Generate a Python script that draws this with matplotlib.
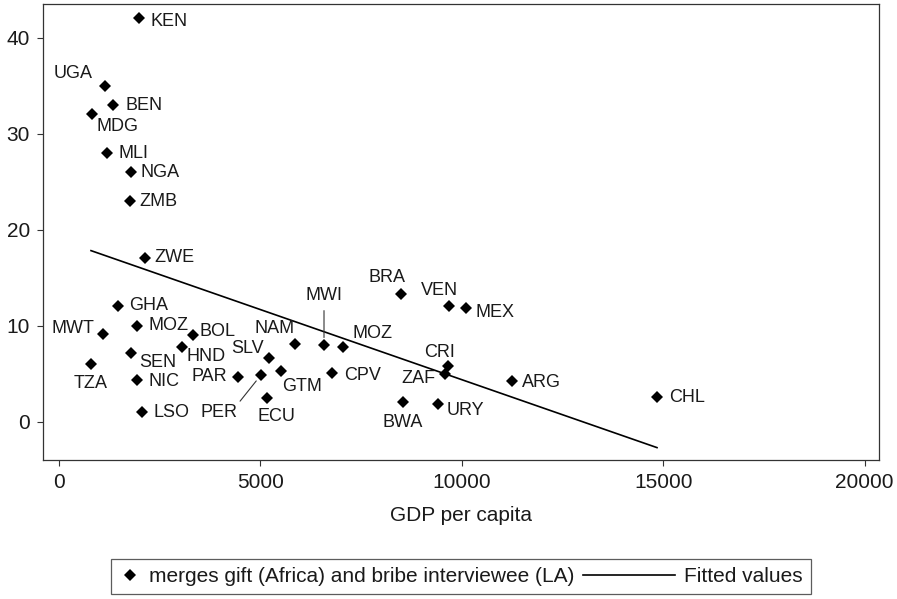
import matplotlib
matplotlib.use("Agg")
import matplotlib.pyplot as plt
from matplotlib.lines import Line2D
from matplotlib.legend_handler import HandlerLine2D

plt.rcParams['font.family'] = ['Liberation Sans', 'DejaVu Sans']

# country codes, GDP per capita and share reporting gifts/bribes
countries = ['KEN', 'UGA', 'BEN', 'MDG', 'MLI', 'NGA', 'ZMB', 'ZWE', 'GHA', 'MOZ',
             'MWT', 'BOL', 'HND', 'SEN', 'TZA', 'NIC', 'LSO', 'PAR', 'PER', 'SLV',
             'GTM', 'ECU', 'NAM', 'MWI', 'MOZ', 'CPV', 'BRA', 'VEN', 'MEX', 'CRI',
             'ZAF', 'ARG', 'BWA', 'URY', 'CHL']
gdp = [1993, 1149, 1347, 826, 1199, 1794, 1769, 2141, 1471, 1943,
       1099, 3333, 3060, 1794, 801, 1943, 2067, 4449, 5020, 5218,
       5516, 5169, 5864, 6583, 7055, 6782, 8494, 9685, 10107, 9660,
       9586, 11248, 8543, 9412, 14846]
gift_bribe = [42.1, 35.0, 33.0, 32.1, 28.0, 26.0, 23.0, 17.1, 12.1, 10.0,
              9.2, 9.1, 7.8, 7.2, 6.0, 4.4, 1.0, 4.7, 4.9, 6.7,
              5.3, 2.5, 8.1, 8.0, 7.8, 5.1, 13.3, 12.1, 11.9, 5.8,
              5.0, 4.3, 2.1, 1.9, 2.6]

# fitted values at the smallest and largest GDP
fit_gdp = [801, 14846]
fit_vals = [17.85, -2.67]

# label offsets in points (dx, dy, halign)
label_pos = [(8, -3, 'left'), (-9, 9, 'right'), (9, 0, 'left'), (3.5, -9, 'left'),
             (8, 0, 'left'), (6.5, 0, 'left'), (7, 0, 'left'), (7, 0, 'left'),
             (8, 0, 'left'), (8, 0, 'left'), (-6.5, 4, 'right'), (5, 2, 'left'),
             (3.5, -7, 'left'), (6, -7, 'left'), (0, -14, 'center'), (8, -1, 'left'),
             (8, 0, 'left'), (-8, 0, 'right'), (-30, -27, 'center'), (-4, 6.5, 'right'),
             (0.5, -11, 'left'), (7, -13, 'center'), (0, 11.5, 'right'), (0, 36, 'center'),
             (6.5, 9.5, 'left'), (8.5, -1.5, 'left'), (-10, 12, 'center'), (-6.5, 11, 'center'),
             (7, -3.5, 'left'), (-6, 10, 'center'), (-7, -3.5, 'right'), (7, -1.5, 'left'),
             (0, -15, 'center'), (6.5, -5, 'left'), (8.5, 0, 'left')]
leaders = {'PER': dict(relpos=(1, 1), shrinkA=0, shrinkB=5.5),
           'MWI': dict(relpos=(0.5, 0), shrinkA=3, shrinkB=5.5)}

ink = '#1a1a1a'


class WideLine(HandlerLine2D):
    # longer legend key for the line, stretched into the column gap
    def create_artists(self, legend, orig_handle, xdescent, ydescent,
                       width, height, fontsize, trans):
        extra = 3.4 * fontsize
        y = height / 2 - ydescent
        ln = Line2D([-xdescent - extra, width - xdescent], [y, y])
        self.update_prop(ln, orig_handle, legend)
        ln.set_transform(trans)
        return [ln]


fig = plt.figure(figsize=(8.97, 5.99), dpi=100)
ax = fig.add_axes([43 / 897, 1 - 460 / 599, (879 - 43) / 897, (460 - 4) / 599])

pts, = ax.plot(gdp, gift_bribe, 'D', color='black', markersize=6.2, markeredgewidth=0,
               label='merges gift (Africa) and bribe interviewee (LA)')
fit, = ax.plot(fit_gdp, fit_vals, '-', color='black', linewidth=1.2, label='Fitted values')

for name, x, y, (dx, dy, ha) in zip(countries, gdp, gift_bribe, label_pos):
    kw = {}
    if name in leaders:
        kw['arrowprops'] = dict(arrowstyle='-', color='#333333', linewidth=0.8, **leaders[name])
    ax.annotate(name, (x, y), xytext=(dx, dy), textcoords='offset points',
                ha=ha, va='center', fontsize=13, color=ink, **kw)

ax.set_xlim(-390, 20355)
ax.set_ylim(-3.96, 43.54)
ax.set_xticks([0, 5000, 10000, 15000, 20000])
ax.set_yticks([0, 10, 20, 30, 40])
ax.tick_params(direction='out', length=4.5, width=0.8, labelsize=15, colors='#333333',
               labelcolor=ink, pad=5)
for s in ax.spines.values():
    s.set_color('#333333')
    s.set_linewidth(0.9)
ax.set_xlabel('GDP per capita', fontsize=15, color=ink, labelpad=10)

leg = fig.legend(handles=[pts, fit], loc='center', ncol=2,
                 bbox_to_anchor=((43 + 879) / 2 / 897, 1 - 576.5 / 599),
                 fontsize=15, handlelength=1.0, handletextpad=0.43, columnspacing=3.8,
                 borderpad=0.4, fancybox=False, frameon=True, numpoints=1,
                 handler_map={fit: WideLine()})
leg.get_frame().set_edgecolor('#333333')
leg.get_frame().set_linewidth(0.9)
for t in leg.get_texts():
    t.set_color(ink)

fig.savefig('out.png', dpi=100)
